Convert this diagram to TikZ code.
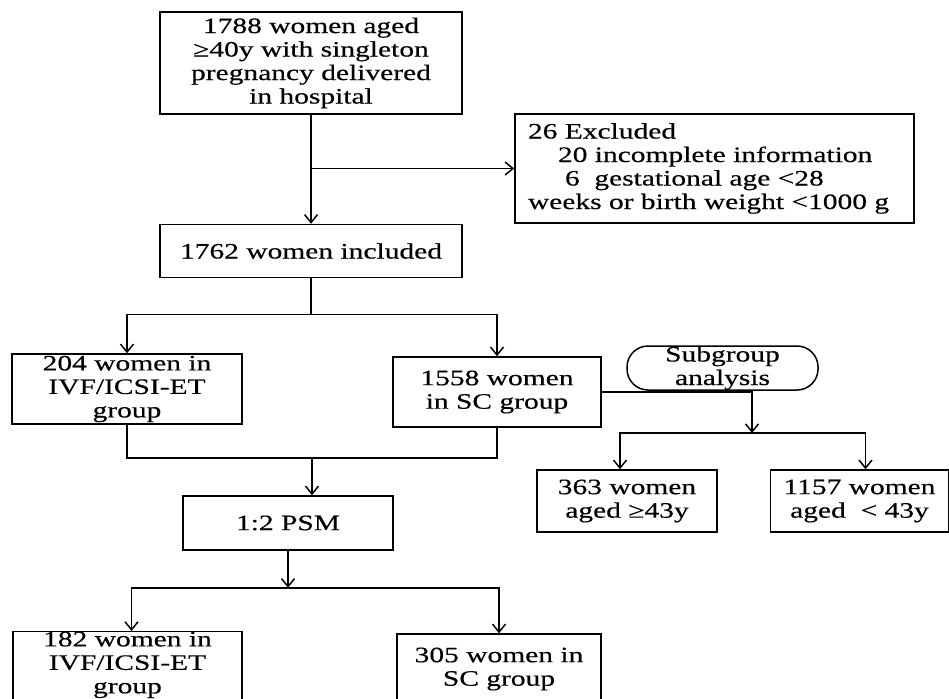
\documentclass[tikz,border=0pt]{standalone}
\usepackage{fontspec}
\setmainfont{Liberation Serif}[FakeStretch=1.34, FakeBold=0.4]
\usetikzlibrary{positioning, arrows.meta}

\begin{document}
\begin{tikzpicture}[
  x=1pt, y=-1pt,
  font=\fontsize{22}{23.5}\selectfont,
  box/.style={
    rectangle, draw, line width=1.5pt,
    inner sep=0pt, align=center
  },
  pill/.style={box, rounded corners=21pt},
  arr/.style={-{Straight Barb[length=8pt,width=13pt]}, line width=1.5pt},
  wire/.style={line width=1.5pt}
]
\useasboundingbox (0,0) rectangle (949,698);
\clip (0,0) rectangle (949,698);

\node[box, minimum width=302pt, minimum height=102pt] (total) at (311,63) {
  1788 women aged\\≥40y with singleton\\pregnancy delivered\\in hospital};

\node[box, minimum width=302pt, minimum height=53pt, below=109pt of total] (incl) {
  1762 women included};

\node[box, minimum width=399pt, minimum height=109pt, text width=373pt, align=left] (excl) at (714.5,168.5) {
  26 Excluded\\
  \hspace*{30pt}20 incomplete information\\
  \hspace*{37pt}6~ gestational age <28\\
  weeks or birth weight <1000 g};

\node[box, minimum width=230pt, minimum height=70pt] (ivf) at (127,389) {
  204 women in\\IVF/ICSI-ET\\group};

\node[box, minimum width=208pt, minimum height=70pt] (sc) at (497,392) {
  1558 women\\in SC group};

\node[pill, minimum width=191pt, minimum height=44pt] (sub) at (722.5,368) {
  Subgroup\\analysis};

\node[box, minimum width=180pt, minimum height=62pt] (old) at (627,501) {
  363 women\\aged ≥43y};

\node[box, minimum width=178pt, minimum height=62pt, right=52pt of old] (young) {
  1157 women\\aged~ < 43y};

\node[box, minimum width=210pt, minimum height=54pt] (psm) at (288,523) {
  1:2 PSM};

\node[box, minimum width=229pt, minimum height=70pt] (ivf2) at (127.5,667) {
  182 women in\\IVF/ICSI-ET\\group\rule[-9pt]{0pt}{9pt}};

\node[box, minimum width=204pt, minimum height=70pt] (sc2) at (499,669) {
  305 women in\\SC group};

\draw[arr] (total) -- (incl);
\draw[arr] (total.south |- excl.west) -- (excl.west);

\draw[wire] (incl.south) -- ++(0,36) coordinate (split1);
\draw[arr] (split1) -| (ivf.north);
\draw[arr] (split1) -| (sc.north);

\coordinate (join1) at (312,458);
\draw[wire] (ivf.south) |- (join1) -| (sc.south);
\draw[arr] (join1) -- (join1 |- psm.north);

\coordinate (split2) at (752,433);
\draw[arr] (sc.east) -| (split2);
\draw[arr] (split2) -| ([xshift=-7pt]old.north);
\draw[arr] (split2) -| ([xshift=6pt]young.north);

\draw[arr] (psm.south) -- ++(0,37) coordinate (split3);
\draw[arr] (split3) -| ([xshift=4pt]ivf2.north);
\draw[arr] (split3) -| (sc2.north);

\end{tikzpicture}
\end{document}
